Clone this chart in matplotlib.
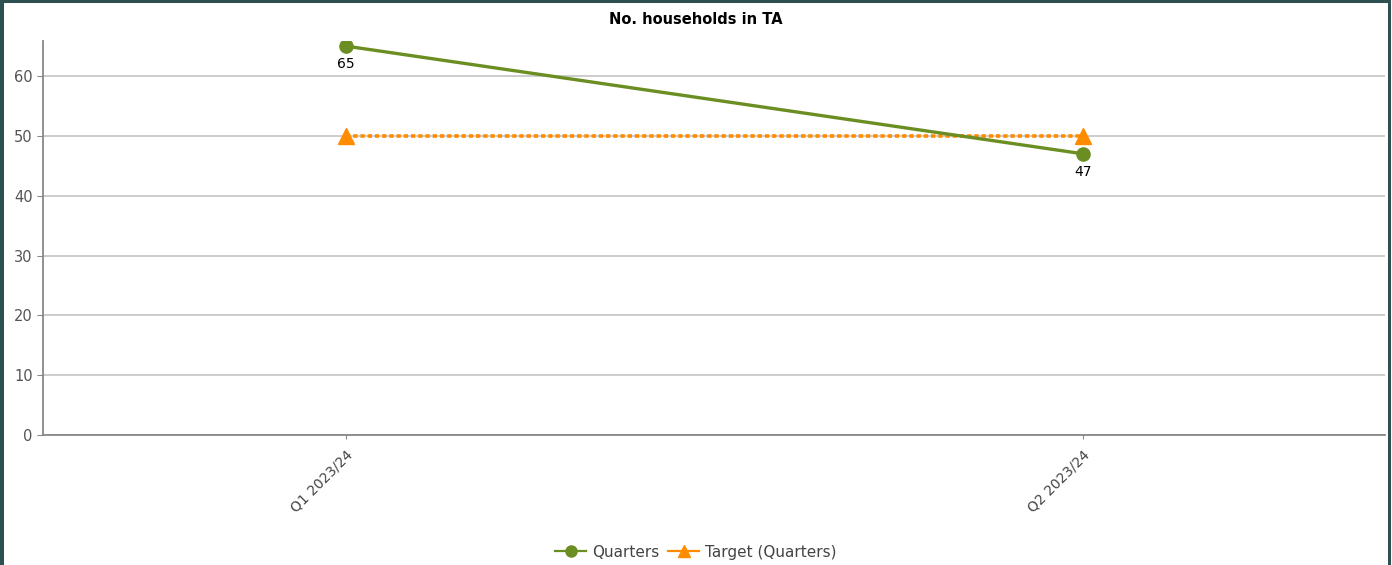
import matplotlib.pyplot as plt
from matplotlib.lines import Line2D
from matplotlib.patches import Rectangle

# datos del gráfico
quarters = ['Q1 2023/24', 'Q2 2023/24']
households = [65, 47]
target = [50, 50]
y_ticks = [0, 10, 20, 30, 40, 50, 60]

green = '#6b8e23'
orange = '#ff8c00'

fig = plt.figure(figsize=(13.92, 5.65), dpi=100)
ax = fig.add_axes([0.031, 0.2301, 0.964, 0.6973])

x = list(range(len(quarters)))
ax.plot(x, households, color=green, linewidth=2.4, marker='o', markersize=9.5,
        zorder=3)
ax.plot(x, target, color=orange, linewidth=2.6, linestyle=(0, (1.2, 0.8)),
        marker='^', markersize=11.5, zorder=2)

for xi, v in zip(x, households):
    ax.annotate(str(v), (xi, v), xytext=(0, -8), textcoords='offset points',
                ha='center', va='top', fontsize=10, color='black')

ax.set_xlim(-0.411, 1.41)
ax.set_ylim(0, 65.85)
ax.set_yticks(y_ticks)
ax.set_xticks(x)
ax.set_xticklabels(quarters, rotation=45, ha='right', va='top',
                   rotation_mode='anchor', fontsize=10, color='#444444')
ax.tick_params(axis='y', labelsize=10.5, labelcolor='#555555', color='#888888',
               length=4)
ax.tick_params(axis='x', color='#888888', length=3, pad=6)

ax.grid(axis='y', color='#c8c8c8', linewidth=1.3)
ax.set_axisbelow(True)
for side in ['top', 'right']:
    ax.spines[side].set_visible(False)
for side in ['left', 'bottom']:
    ax.spines[side].set_color('#888888')
    ax.spines[side].set_linewidth(1.3)

fig.text(0.5, 0.966, 'No. households in TA', ha='center', va='center',
         fontsize=10.5, fontweight='bold')

handles = [
    Line2D([], [], color=green, linewidth=1.6, marker='o', markersize=8),
    Line2D([], [], color=orange, linewidth=1.6, marker='^', markersize=9),
]
leg = fig.legend(handles, ['Quarters', 'Target (Quarters)'], loc='center',
                 bbox_to_anchor=(0.5, 0.023), ncol=2, frameon=False,
                 fontsize=11, handlelength=2.0, columnspacing=0.6,
                 handletextpad=0.4)
for t in leg.get_texts():
    t.set_color('#444444')

# marco exterior
fig.patches.append(Rectangle((0.0015, -0.01), 0.996, 1.0075, transform=fig.transFigure,
                             fill=False, edgecolor='#2e5050', linewidth=2.2))
fig.patches.append(Rectangle((0, 0), 0.003, 1, transform=fig.transFigure,
                             color='#2e5050', linewidth=0))

fig.savefig('out.png', dpi=100)
